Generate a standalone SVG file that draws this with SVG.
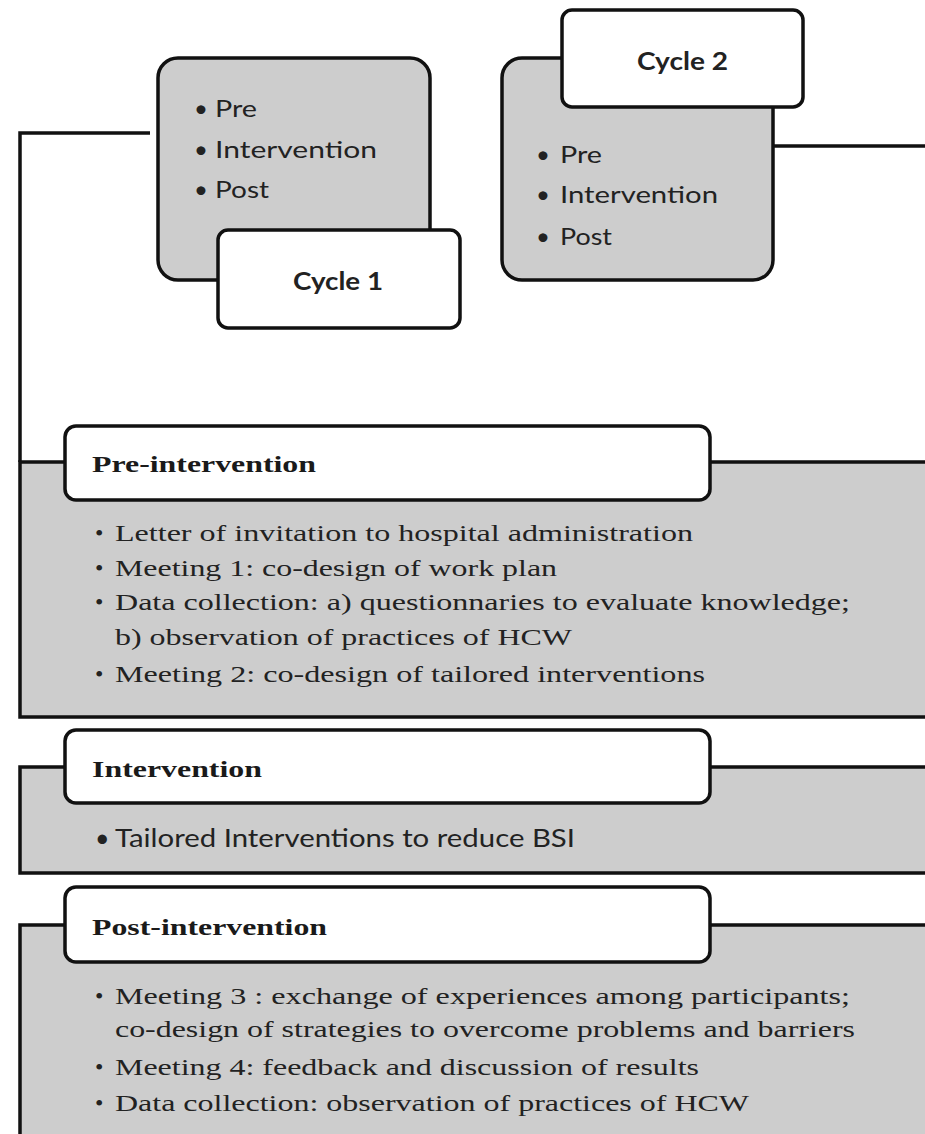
<svg xmlns="http://www.w3.org/2000/svg" width="925" height="1134" viewBox="0 0 925 1134">
<style>
.gray{fill:#cdcdcd;stroke:#111;stroke-width:3.5}
.white{fill:#fff;stroke:#111;stroke-width:3.5}
.conn{fill:none;stroke:#111;stroke-width:3.5}
.cyc{font-family:Lato,"Liberation Sans",sans-serif;font-size:24px;fill:#222}
.cyclab{font-family:Lato,"Liberation Sans",sans-serif;font-size:24px;font-weight:bold;fill:#222}
.hdr{font-family:"Liberation Serif",serif;font-size:24px;font-weight:bold;fill:#1a1a1a}
.body{font-family:"Liberation Serif",serif;font-size:24px;fill:#222}
.sans{font-family:Lato,"Liberation Sans",sans-serif;font-size:25px;fill:#222}
</style>
<rect width="925" height="1134" fill="#fff"/>
<g id="connectors">
<path class="conn" d="M150,133 H20 V462"/>
<path class="conn" d="M765,146 H930"/>
</g>
<g id="cycle1">
<rect class="gray" x="158" y="58" width="272" height="222" rx="20"/>
<text class="cyc" x="194" y="117">•</text><text class="cyc" x="215" y="117" textLength="42" lengthAdjust="spacingAndGlyphs">Pre</text>
<text class="cyc" x="194" y="158">•</text><text class="cyc" x="215" y="158" textLength="162" lengthAdjust="spacingAndGlyphs">Intervention</text>
<text class="cyc" x="194" y="198">•</text><text class="cyc" x="215" y="198" textLength="54" lengthAdjust="spacingAndGlyphs">Post</text>
<rect class="white" x="218" y="230" width="242" height="98" rx="10"/>
<text class="cyclab" x="293" y="290" textLength="90" lengthAdjust="spacingAndGlyphs">Cycle 1</text>
</g>
<g id="cycle2">
<rect class="gray" x="502" y="58" width="271" height="222" rx="20"/>
<text class="cyc" x="536" y="163">•</text><text class="cyc" x="560" y="163" textLength="42" lengthAdjust="spacingAndGlyphs">Pre</text>
<text class="cyc" x="536" y="203">•</text><text class="cyc" x="560" y="203" textLength="158" lengthAdjust="spacingAndGlyphs">Intervention</text>
<text class="cyc" x="536" y="245">•</text><text class="cyc" x="560" y="245" textLength="52" lengthAdjust="spacingAndGlyphs">Post</text>
<rect class="white" x="562" y="10" width="241" height="97" rx="10"/>
<text class="cyclab" x="637" y="70" textLength="91" lengthAdjust="spacingAndGlyphs">Cycle 2</text>
</g>
<g id="pre-intervention">
<rect class="gray" x="20" y="462" width="920" height="255"/>
<rect class="white" x="65" y="426" width="645" height="74" rx="11"/>
<text class="hdr" x="92" y="472" textLength="224" lengthAdjust="spacingAndGlyphs">Pre-intervention</text>
<text class="body" x="95" y="541">•</text><text class="body" x="115" y="541" textLength="578" lengthAdjust="spacingAndGlyphs">Letter of invitation to hospital administration</text>
<text class="body" x="95" y="576">•</text><text class="body" x="115" y="576" textLength="442" lengthAdjust="spacingAndGlyphs">Meeting 1: co-design of work plan</text>
<text class="body" x="95" y="610">•</text><text class="body" x="115" y="610" textLength="735" lengthAdjust="spacingAndGlyphs">Data collection: a) questionnaries to evaluate knowledge;</text>
<text class="body" x="115" y="645" textLength="457" lengthAdjust="spacingAndGlyphs">b) observation of practices of HCW</text>
<text class="body" x="95" y="682">•</text><text class="body" x="115" y="682" textLength="590" lengthAdjust="spacingAndGlyphs">Meeting 2: co-design of tailored interventions</text>
</g>
<g id="intervention">
<rect class="gray" x="20" y="767" width="920" height="106"/>
<rect class="white" x="65" y="730" width="645" height="73" rx="11"/>
<text class="hdr" x="92" y="777" textLength="170" lengthAdjust="spacingAndGlyphs">Intervention</text>
<text class="sans" x="95" y="847">•</text><text class="sans" x="115" y="847" textLength="460" lengthAdjust="spacingAndGlyphs">Tailored Interventions to reduce BSI</text>
</g>
<g id="post-intervention">
<rect class="gray" x="20" y="925" width="920" height="230"/>
<rect class="white" x="65" y="887" width="645" height="75" rx="11"/>
<text class="hdr" x="92" y="935" textLength="235" lengthAdjust="spacingAndGlyphs">Post-intervention</text>
<text class="body" x="95" y="1004">•</text><text class="body" x="115" y="1004" textLength="735" lengthAdjust="spacingAndGlyphs">Meeting 3 : exchange of experiences among participants;</text>
<text class="body" x="115" y="1037" textLength="740" lengthAdjust="spacingAndGlyphs">co-design of strategies to overcome problems and barriers</text>
<text class="body" x="95" y="1075">•</text><text class="body" x="115" y="1075" textLength="584" lengthAdjust="spacingAndGlyphs">Meeting 4: feedback and discussion of results</text>
<text class="body" x="95" y="1111">•</text><text class="body" x="115" y="1111" textLength="634" lengthAdjust="spacingAndGlyphs">Data collection: observation of practices of HCW</text>
</g>
</svg>
